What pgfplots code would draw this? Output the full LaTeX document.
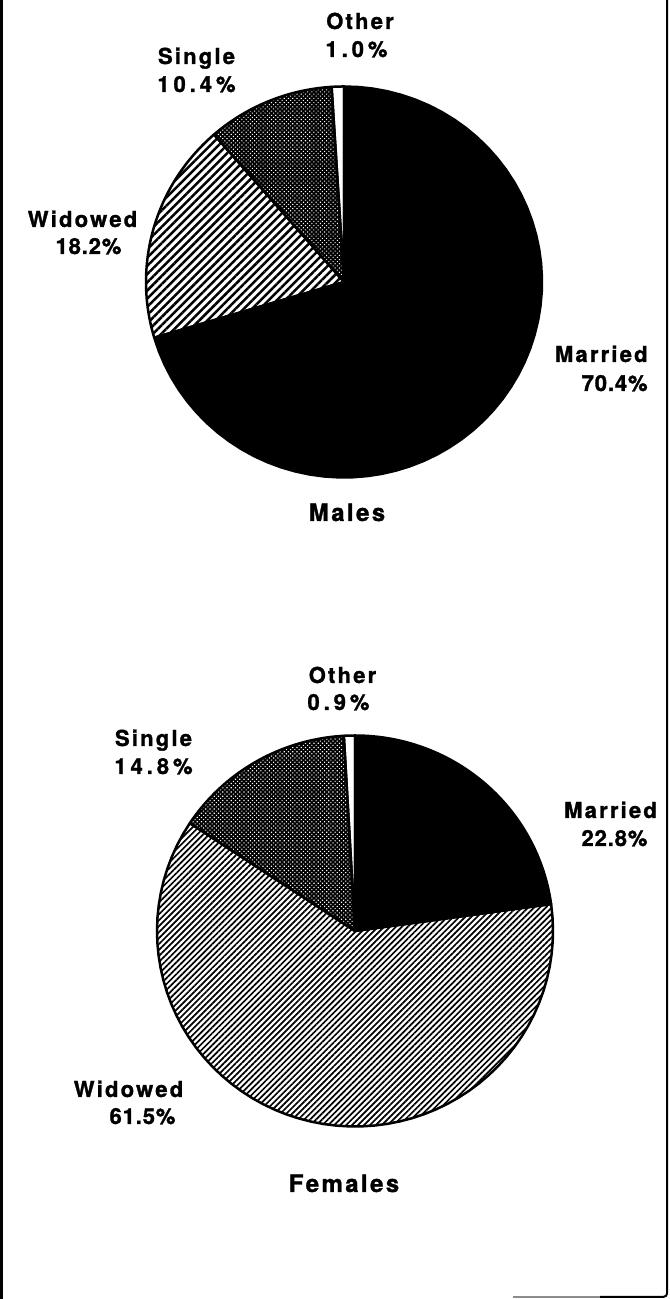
\documentclass[border=0pt]{standalone}
\usepackage{fontspec}
\setmainfont{TeX Gyre Heros}
\newfontfamily\wfont[LetterSpace=10, BoldFeatures={FakeBold=1.3}]{TeX Gyre Heros}
\newfontfamily\nfont[LetterSpace=4, BoldFeatures={FakeBold=1.3}]{TeX Gyre Heros}
\newfontfamily\sfont[LetterSpace=18, BoldFeatures={FakeBold=1.3}]{TeX Gyre Heros}
\usepackage{pgfplots}
\pgfplotsset{compat=1.18}
\usetikzlibrary{patterns.meta}
\newcommand{\W}[1]{{\wfont\bfseries\fontsize{11}{13}\selectfont #1}}
\newcommand{\N}[1]{{\nfont\bfseries\fontsize{11}{13}\selectfont #1}}
\newcommand{\Sp}[1]{{\sfont\bfseries\fontsize{11}{13}\selectfont #1}}
\newcommand{\T}[1]{{\wfont\bfseries\fontsize{12}{14}\selectfont #1}}
\newcommand{\pieslice}[3]{\path[#1] (0,0) -- plot[domain=#2:#3, samples=61, variable=\t] ({cos(\t)},{sin(\t)}) -- cycle;}
\begin{document}
\begin{tikzpicture}
\useasboundingbox (0,0) rectangle (334.5pt,649.5pt);
% data (percent)
% Males: Married 70.4, Widowed 18.2, Single 10.4, Other 1.0
% Females: Married 22.8, Widowed 61.5, Single 14.8, Other 0.9
\pgfmathsetmacro\mA{90}
\pgfmathsetmacro\mB{\mA-3.6*70.4}
\pgfmathsetmacro\mC{\mB-3.6*18.2}
\pgfmathsetmacro\mD{\mC-3.6*10.4}
\pgfmathsetmacro\mE{\mD-3.6*1.0}
\pgfmathsetmacro\fA{90}
\pgfmathsetmacro\fB{\fA-3.6*22.8}
\pgfmathsetmacro\fC{\fB-3.6*61.5}
\pgfmathsetmacro\fD{\fC-3.6*14.8}
\pgfmathsetmacro\fE{\fD-3.6*0.9}
\tikzset{outl/.style={draw=black,line width=1.25pt,line join=round}}
% Males
\begin{axis}[at={(172pt,508.5pt)}, anchor=center, x=99pt, y=97.75pt,
  xmin=-1.1, xmax=1.1, ymin=-1.1, ymax=1.1, hide axis, clip=false]
\pieslice{fill=black}{\mA}{\mB}
\pieslice{pattern={Lines[angle=45,distance=2.9pt,line width=1.25pt]}}{\mB}{\mC}
\pieslice{fill=black}{\mC}{\mD}
\pieslice{pattern={Dots[angle=45,distance=1.5pt,radius=0.38pt]},pattern color=white}{\mC}{\mD}
\pieslice{fill=white}{\mD}{\mE}
\pieslice{outl}{\mA}{\mB}
\pieslice{outl}{\mB}{\mC}
\pieslice{outl}{\mC}{\mD}
\pieslice{outl}{\mD}{\mE}
\end{axis}
% Females
\begin{axis}[at={(177.5pt,184pt)}, anchor=center, x=99pt, y=97.75pt,
  xmin=-1.1, xmax=1.1, ymin=-1.1, ymax=1.1, hide axis, clip=false]
\pieslice{fill=black}{\fA}{\fB}
\pieslice{pattern={Lines[angle=45,distance=2.1pt,line width=0.85pt]}}{\fB}{\fC}
\pieslice{fill=black}{\fC}{\fD}
\pieslice{pattern={Dots[angle=45,distance=1.5pt,radius=0.4pt]},pattern color=white}{\fC}{\fD}
\pieslice{fill=white}{\fD}{\fE}
\pieslice{outl}{\fA}{\fB}
\pieslice{outl}{\fB}{\fC}
\pieslice{outl}{\fC}{\fD}
\pieslice{outl}{\fD}{\fE}
\end{axis}
% labels, males
\node[anchor=base] at (180pt,635pt) {\W{Other}};
\node[anchor=base] at (178.25pt,621pt) {\Sp{1.0\%}};
\node[anchor=base] at (98.25pt,617.5pt) {\W{Single}};
\node[anchor=base] at (98.25pt,603.5pt) {\Sp{10.4\%}};
\node[anchor=base] at (41.25pt,536pt) {\W{Widowed}};
\node[anchor=base] at (44.25pt,522.5pt) {\N{18.2\%}};
\node[anchor=base east,inner xsep=0pt] at (324pt,468.5pt) {\W{Married}};
\node[anchor=base east,inner xsep=0pt] at (324pt,454pt) {\N{70.4\%}};
\node[anchor=base] at (173.5pt,389pt) {\T{Males}};
% labels, females
\node[anchor=base] at (171.25pt,308pt) {\W{Other}};
\node[anchor=base] at (169.25pt,294.5pt) {\Sp{0.9\%}};
\node[anchor=base] at (76.75pt,276.5pt) {\W{Single}};
\node[anchor=base] at (76.75pt,262.5pt) {\Sp{14.8\%}};
\node[anchor=base] at (305.25pt,240.5pt) {\W{Married}};
\node[anchor=base] at (307.25pt,226.5pt) {\N{22.8\%}};
\node[anchor=base] at (64.25pt,101pt) {\W{Widowed}};
\node[anchor=base] at (71.25pt,87.5pt) {\N{61.5\%}};
\node[anchor=base] at (172pt,53.5pt) {\T{Females}};
% frame
\draw[line width=1.2pt] (0.7pt,649.5pt) -- (0.7pt,0pt);
\draw[line width=1pt,rounded corners=2pt] (333.6pt,649.5pt) -- (333.6pt,1pt) -- (300pt,1pt);
\draw[line width=1pt,black!45] (300pt,1pt) -- (256.5pt,1pt);
\end{tikzpicture}
\end{document}
